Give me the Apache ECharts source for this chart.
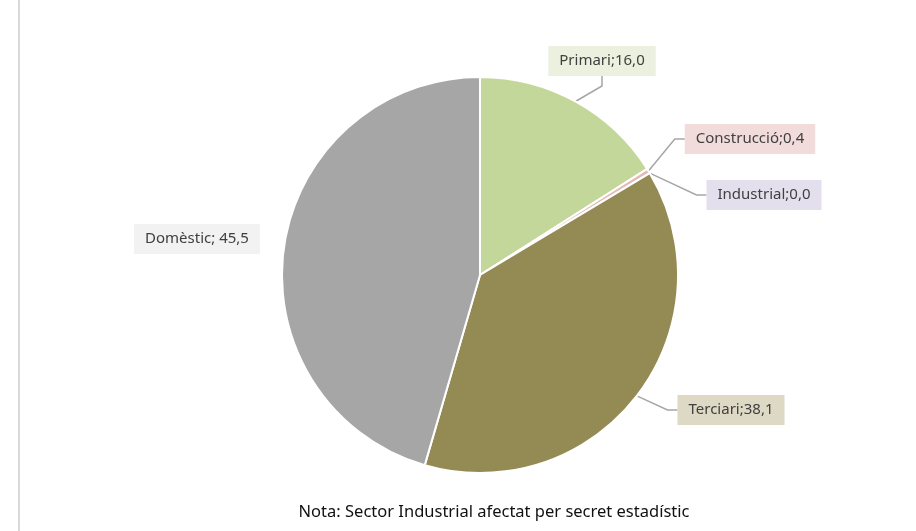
<!DOCTYPE html>
<html lang="ca">
    <head>
        <meta charset="utf-8">
        <title>Sectors</title>
        <script src="https://cdn.jsdelivr.net/npm/echarts@6/dist/echarts.min.js"></script>
        <style>
            html, body { margin: 0; padding: 0; background: #fff; }
        </style>
    </head>
    <body>
        <div id="pie" style="width:916px; height:531px;"></div>
        <script>
            // dades
            var sectors = ['Primari', 'Construcció', 'Industrial', 'Terciari', 'Domèstic'];
            var values = [16.0, 0.4, 0.0, 38.1, 45.5];
            var separators = [';', ';', ';', ';', '; '];
            var colors = ['#c4d79b', '#e6b9b8', '#ccc0da', '#948a54', '#a6a6a6'];
            var labelBg = ['#ebf1de', '#f2dcdb', '#e4dfec', '#ddd9c4', '#f2f2f2'];
            // posicio de les etiquetes (centre de la caixa)
            var labelPos = [[602, 61], [750, 139], [764, 195], [731, 410], [197, 239]];
            var note = 'Nota: Sector Industrial afectat per secret estadístic';

            var chart = echarts.init(document.querySelector('#pie'));

            var data = sectors.map(function (name, i) {
                return {
                    name: name,
                    value: values[i],
                    itemStyle: { color: colors[i] },
                    label: { backgroundColor: labelBg[i] },
                    labelLine: { show: name !== 'Domèstic' }
                };
            });

            chart.setOption({
                animation: false,
                graphic: [
                    {
                        type: 'line',
                        shape: { x1: 19, y1: 0, x2: 19, y2: 531 },
                        style: { stroke: '#d9d9d9', lineWidth: 2 }
                    },
                    {
                        type: 'text',
                        x: 494,
                        y: 512,
                        style: {
                            text: note,
                            textAlign: 'center',
                            textVerticalAlign: 'middle',
                            fill: '#111',
                            font: '16.5px "Noto Sans"'
                        }
                    }
                ],
                series: [{
                    type: 'pie',
                    center: [480, 275],
                    radius: 198,
                    startAngle: 90,
                    clockwise: true,
                    stillShowZeroSum: true,
                    itemStyle: { borderColor: '#fff', borderWidth: 2 },
                    label: {
                        show: true,
                        position: 'outside',
                        color: '#404040',
                        fontFamily: 'Noto Sans',
                        fontSize: 15,
                        lineHeight: 16,
                        padding: [7, 11],
                        formatter: function (p) {
                            return p.name + separators[p.dataIndex] + p.value.toFixed(1).replace('.', ',');
                        }
                    },
                    labelLine: {
                        show: true,
                        length: 10,
                        length2: 10,
                        lineStyle: { color: '#a6a6a6', width: 1.5 }
                    },
                    labelLayout: function (params) {
                        var pos = labelPos[params.dataIndex];
                        return {
                            x: pos[0],
                            y: pos[1],
                            align: 'center',
                            verticalAlign: 'middle'
                        };
                    },
                    data: data
                }]
            });
        </script>
    </body>
</html>
